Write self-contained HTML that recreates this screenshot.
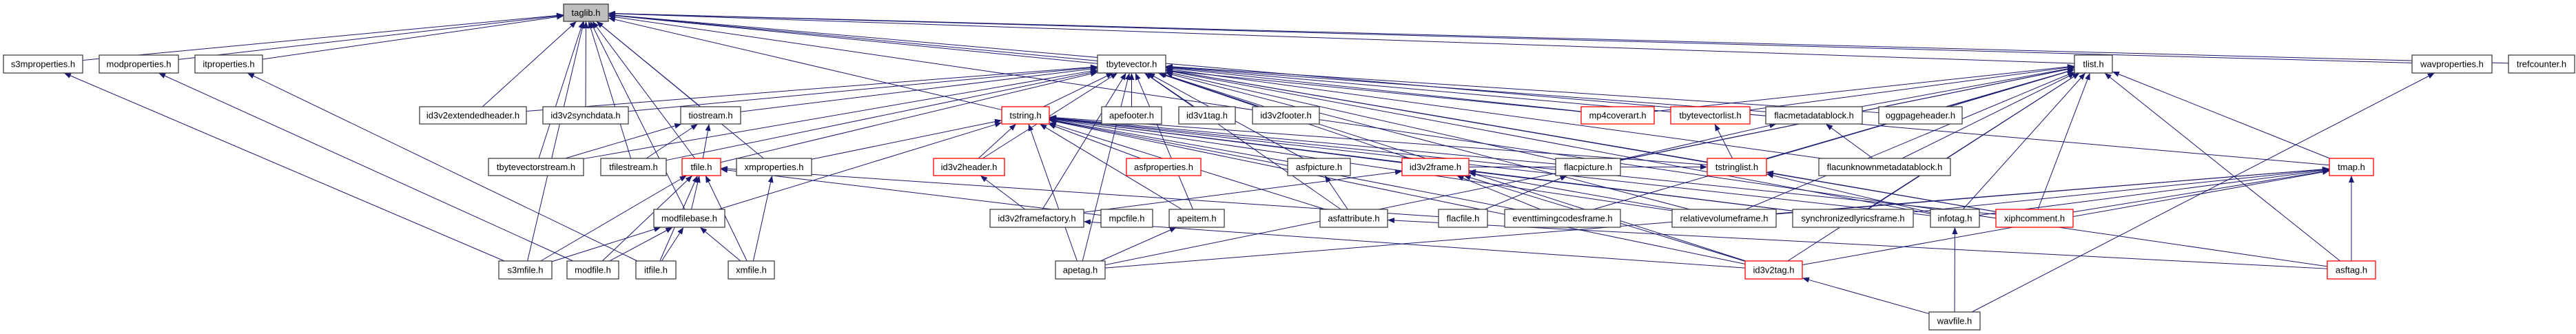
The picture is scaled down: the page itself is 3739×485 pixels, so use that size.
<!DOCTYPE html>
<html><head><meta charset="utf-8">
<style>
html,body{margin:0;padding:0;background:#fff;}
svg{display:block;}
text{font-family:"Liberation Sans",sans-serif;font-size:13px;fill:#000;text-anchor:middle;dominant-baseline:central;}
rect{fill:#fff;stroke:#404040;stroke-width:1.3;}
rect.r{stroke:#ff0000;}
rect.g{fill:#bfbfbf;}
line{stroke:#191970;stroke-width:1;}
</style></head><body>
<svg id="s" width="3739" height="485" viewBox="0 0 3739 485" xmlns="http://www.w3.org/2000/svg">
<defs><marker id="a" markerUnits="userSpaceOnUse" markerWidth="11" markerHeight="8" refX="10" refY="4" orient="auto"><path d="M0,0 L10,4 L0,8 z" fill="#191970"/></marker></defs>
<g id="edges"></g>
<g id="nodes">
<rect id="taglib" class="g" x="818" y="6" width="65" height="25"/><text x="850.5" y="18.5">taglib.h</text>
<rect id="s3mproperties" x="5" y="80" width="115" height="26"/><text x="62.5" y="93">s3mproperties.h</text>
<rect id="modproperties" x="144" y="80" width="115" height="26"/><text x="201.5" y="93">modproperties.h</text>
<rect id="itproperties" x="283" y="80" width="98" height="26"/><text x="332" y="93">itproperties.h</text>
<rect id="tbytevector" x="1593" y="80" width="99" height="26"/><text x="1642.5" y="93">tbytevector.h</text>
<rect id="tlist" x="3011" y="80" width="55" height="26"/><text x="3038.5" y="93">tlist.h</text>
<rect id="wavproperties" x="3501" y="80" width="116" height="26"/><text x="3559" y="93">wavproperties.h</text>
<rect id="trefcounter" x="3641" y="80" width="96" height="26"/><text x="3689" y="93">trefcounter.h</text>
<rect id="id3v2extendedheader" x="609" y="155" width="155" height="25"/><text x="686.5" y="167.5">id3v2extendedheader.h</text>
<rect id="id3v2synchdata" x="788" y="155" width="124" height="25"/><text x="850" y="167.5">id3v2synchdata.h</text>
<rect id="tiostream" x="988" y="155" width="87" height="25"/><text x="1031.5" y="167.5">tiostream.h</text>
<rect id="tstring" class="r" x="1454" y="155" width="69" height="25"/><text x="1488.5" y="167.5">tstring.h</text>
<rect id="apefooter" x="1599" y="155" width="87" height="25"/><text x="1642.5" y="167.5">apefooter.h</text>
<rect id="id3v1tag" x="1711" y="155" width="82" height="25"/><text x="1752" y="167.5">id3v1tag.h</text>
<rect id="id3v2footer" x="1818" y="155" width="97" height="25"/><text x="1866.5" y="167.5">id3v2footer.h</text>
<rect id="mp4coverart" class="r" x="2295" y="155" width="106" height="25"/><text x="2348" y="167.5">mp4coverart.h</text>
<rect id="tbytevectorlist" class="r" x="2425" y="155" width="115" height="25"/><text x="2482.5" y="167.5">tbytevectorlist.h</text>
<rect id="flacmetadatablock" x="2563" y="155" width="140" height="25"/><text x="2633" y="167.5">flacmetadatablock.h</text>
<rect id="oggpageheader" x="2727" y="155" width="121" height="25"/><text x="2787.5" y="167.5">oggpageheader.h</text>
<rect id="tbytevectorstream" x="709" y="230" width="138" height="25"/><text x="778" y="242.5">tbytevectorstream.h</text>
<rect id="tfilestream" x="872" y="230" width="95" height="25"/><text x="919.5" y="242.5">tfilestream.h</text>
<rect id="tfile" class="r" x="990" y="230" width="56" height="25"/><text x="1018" y="242.5">tfile.h</text>
<rect id="xmproperties" x="1069" y="230" width="109" height="25"/><text x="1123.5" y="242.5">xmproperties.h</text>
<rect id="id3v2header" class="r" x="1355" y="230" width="103" height="25"/><text x="1406.5" y="242.5">id3v2header.h</text>
<rect id="asfproperties" class="r" x="1635" y="230" width="108" height="25"/><text x="1689" y="242.5">asfproperties.h</text>
<rect id="asfpicture" x="1869" y="230" width="91" height="25"/><text x="1914.5" y="242.5">asfpicture.h</text>
<rect id="id3v2frame" class="r" x="2035" y="230" width="97" height="25"/><text x="2083.5" y="242.5">id3v2frame.h</text>
<rect id="flacpicture" x="2258" y="230" width="94" height="25"/><text x="2305" y="242.5">flacpicture.h</text>
<rect id="tstringlist" class="r" x="2478" y="230" width="86" height="25"/><text x="2521" y="242.5">tstringlist.h</text>
<rect id="flacunknownmetadatablock" x="2640" y="230" width="191" height="25"/><text x="2735.5" y="242.5">flacunknownmetadatablock.h</text>
<rect id="tmap" class="r" x="3381" y="230" width="64" height="25"/><text x="3413" y="242.5">tmap.h</text>
<rect id="modfilebase" x="949" y="304" width="103" height="26"/><text x="1000.5" y="317">modfilebase.h</text>
<rect id="id3v2framefactory" x="1437" y="304" width="136" height="26"/><text x="1505" y="317">id3v2framefactory.h</text>
<rect id="mpcfile" x="1598" y="304" width="75" height="26"/><text x="1635.5" y="317">mpcfile.h</text>
<rect id="apeitem" x="1697" y="304" width="80" height="26"/><text x="1737" y="317">apeitem.h</text>
<rect id="asfattribute" x="1916" y="304" width="98" height="26"/><text x="1965" y="317">asfattribute.h</text>
<rect id="flacfile" x="2088" y="304" width="71" height="26"/><text x="2123.5" y="317">flacfile.h</text>
<rect id="eventtimingcodesframe" x="2184" y="304" width="168" height="26"/><text x="2268" y="317">eventtimingcodesframe.h</text>
<rect id="relativevolumeframe" x="2427" y="304" width="151" height="26"/><text x="2502.5" y="317">relativevolumeframe.h</text>
<rect id="synchronizedlyricsframe" x="2602" y="304" width="175" height="26"/><text x="2689.5" y="317">synchronizedlyricsframe.h</text>
<rect id="infotag" x="2802" y="304" width="71" height="26"/><text x="2837.5" y="317">infotag.h</text>
<rect id="xiphcomment" class="r" x="2897" y="304" width="112" height="26"/><text x="2953" y="317">xiphcomment.h</text>
<rect id="s3mfile" x="724" y="379" width="77" height="26"/><text x="762.5" y="392">s3mfile.h</text>
<rect id="modfile" x="823" y="379" width="75" height="26"/><text x="860.5" y="392">modfile.h</text>
<rect id="itfile" x="923" y="379" width="58" height="26"/><text x="952" y="392">itfile.h</text>
<rect id="xmfile" x="1057" y="379" width="67" height="26"/><text x="1090.5" y="392">xmfile.h</text>
<rect id="apetag" x="1532" y="379" width="72" height="26"/><text x="1568" y="392">apetag.h</text>
<rect id="id3v2tag" class="r" x="2533" y="379" width="83" height="26"/><text x="2574.5" y="392">id3v2tag.h</text>
<rect id="asftag" class="r" x="3378" y="379" width="70" height="26"/><text x="3413" y="392">asftag.h</text>
<rect id="wavfile" x="2800" y="453" width="74" height="26"/><text x="2837" y="466">wavfile.h</text>
</g>
</svg>
<script>
var E={
taglib:"s3mproperties modproperties itproperties id3v2extendedheader id3v2synchdata tiostream xmproperties tbytevectorstream tfilestream tfile modfilebase s3mfile tstring tbytevector tlist wavproperties trefcounter tmap asftag mp4coverart",
tbytevector:"id3v2extendedheader id3v2synchdata tiostream tbytevectorstream tfilestream tfile tstring apefooter id3v1tag id3v2footer id3v2header id3v2framefactory apetag asfpicture asfattribute apeitem id3v2frame flacpicture mp4coverart tbytevectorlist flacmetadatablock oggpageheader tstringlist flacunknownmetadatablock infotag xiphcomment id3v2tag relativevolumeframe",
tlist:"tbytevectorlist flacmetadatablock oggpageheader tstringlist flacunknownmetadatablock mp4coverart flacpicture relativevolumeframe synchronizedlyricsframe infotag xiphcomment id3v2tag eventtimingcodesframe apetag asftag tmap",
tstring:"xmproperties modfilebase asfproperties asfpicture id3v2frame apeitem asfattribute id3v2header apetag flacpicture tstringlist infotag xiphcomment relativevolumeframe synchronizedlyricsframe id3v2tag eventtimingcodesframe",
tiostream:"tbytevectorstream tfilestream tfile",
tfile:"modfilebase modfile itfile xmfile s3mfile mpcfile flacfile",
modfilebase:"s3mfile modfile itfile xmfile",
xmproperties:"xmfile",s3mproperties:"s3mfile",modproperties:"modfile",itproperties:"itfile",
id3v2header:"id3v2framefactory",id3v2framefactory:"id3v2tag",
id3v2frame:"id3v2framefactory eventtimingcodesframe relativevolumeframe synchronizedlyricsframe id3v2tag",
asfpicture:"asfattribute",asfattribute:"asftag",apeitem:"apetag",flacpicture:"flacfile",
flacmetadatablock:"flacunknownmetadatablock flacpicture",tbytevectorlist:"tstringlist",
tstringlist:"xiphcomment infotag id3v2frame",infotag:"wavfile",id3v2tag:"wavfile",wavproperties:"wavfile",
tmap:"asftag xiphcomment infotag relativevolumeframe synchronizedlyricsframe id3v2tag apetag"
};
function R(id){var r=document.getElementById(id);var x=+r.getAttribute("x"),y=+r.getAttribute("y"),w=+r.getAttribute("width"),h=+r.getAttribute("height");return{cx:x+w/2,cy:y+h/2,hw:w/2,hh:h/2};}
function clip(r,dx,dy){var t=1e9;if(dx)t=Math.min(t,r.hw/Math.abs(dx));if(dy)t=Math.min(t,r.hh/Math.abs(dy));return[r.cx+dx*t,r.cy+dy*t];}
var g=document.getElementById("edges"),ns="http://www.w3.org/2000/svg";
for(var p in E){var P=R(p);E[p].split(" ").forEach(function(c){var C=R(c);var dx=P.cx-C.cx,dy=P.cy-C.cy;var s=clip(C,dx,dy),e=clip(P,-dx,-dy);
var l=document.createElementNS(ns,"line");l.setAttribute("x1",s[0]);l.setAttribute("y1",s[1]);l.setAttribute("x2",e[0]);l.setAttribute("y2",e[1]);l.setAttribute("marker-end","url(#a)");g.appendChild(l);});}
</script>
</body></html>
